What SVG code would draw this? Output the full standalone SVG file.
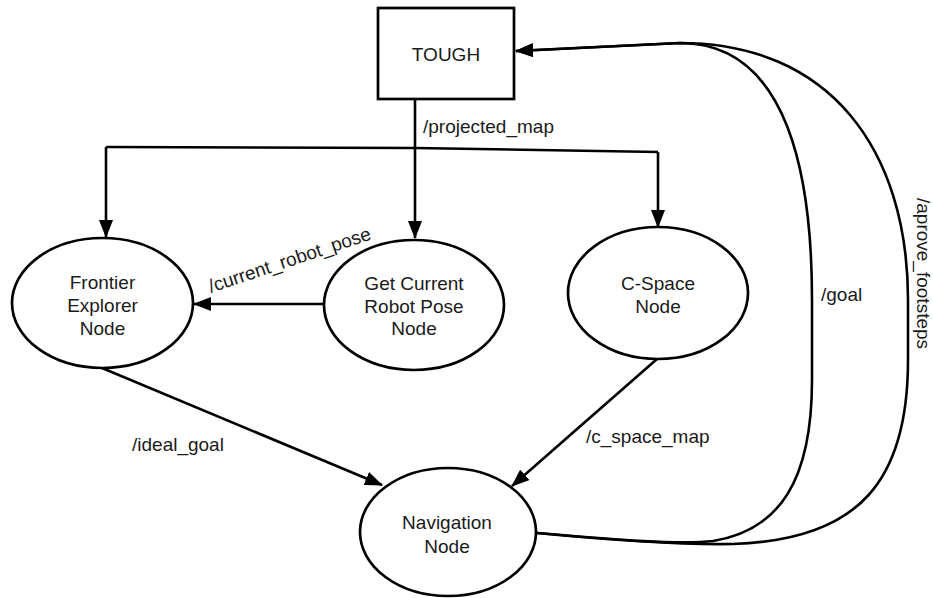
<svg xmlns="http://www.w3.org/2000/svg" width="933" height="598" viewBox="0 0 933 598">
  <style>
    .shape { fill: #ffffff; stroke: #000000; stroke-width: 2.7; }
    .edge { fill: none; stroke: #000000; stroke-width: 2.6; }
    .arrow { marker-end: url(#ah); }
    text { font-family: "Liberation Sans", Arial, sans-serif; font-size: 19px; fill: #1a1a1a; }
    .c { text-anchor: middle; }
  </style>
  <defs>
    <marker id="ah" markerUnits="userSpaceOnUse" viewBox="0 0 18 14" refX="17" refY="7" markerWidth="18" markerHeight="14" orient="auto">
      <path d="M0,0 L18,7 L0,14 z" fill="#000000"/>
    </marker>
  </defs>
  <rect width="933" height="598" fill="#ffffff"/>

  <g id="connectors">
    <!-- /projected_map tree -->
    <path class="edge" d="M415,99 L415,148"/>
    <path class="edge" d="M106,147 L415,148 L658,152"/>
    <path class="edge arrow" d="M106,147 L106,237"/>
    <path class="edge arrow" d="M415,148 L415,238"/>
    <path class="edge arrow" d="M658,152 L658,227"/>
    <!-- /current_robot_pose -->
    <path class="edge arrow" d="M324,304 L194,304"/>
    <!-- /ideal_goal -->
    <path class="edge arrow" d="M102,368 L382,485"/>
    <!-- /c_space_map -->
    <path class="edge arrow" d="M657,359 L512,486"/>
    <!-- /goal -->
    <path class="edge arrow" d="M537,533 C620,540 680,545 713,541 C780,530 812,480 812,380 L812,300 C812,180 790,43 680,43 L516,51"/>
    <!-- /aprove_footsteps -->
    <path class="edge arrow" d="M537,533 C620,541 680,545 733,544 C860,540 908,480 908,360 L908,300 C908,150 830,43 680,43 L516,51"/>

    <text x="423" y="133">/projected_map</text>
    <text x="211" y="293" transform="rotate(-18.5 211 293)">/current_robot_pose</text>
    <text x="132" y="451">/ideal_goal</text>
    <text x="586" y="443">/c_space_map</text>
    <text x="821" y="301">/goal</text>
    <text x="917" y="198" transform="rotate(90 917 198)">/aprove_footsteps</text>
  </g>

  <g id="tough">
    <rect class="shape" x="378" y="8" width="136" height="91"/>
    <text class="c" x="446" y="61">TOUGH</text>
  </g>

  <g id="frontier-explorer">
    <ellipse class="shape" cx="102.5" cy="303" rx="90.5" ry="65"/>
    <text class="c" x="102.5" y="289">Frontier</text>
    <text class="c" x="102.5" y="312">Explorer</text>
    <text class="c" x="102.5" y="335">Node</text>
  </g>

  <g id="get-current-robot-pose">
    <ellipse class="shape" cx="414" cy="305" rx="90" ry="65"/>
    <text class="c" x="414" y="290">Get Current</text>
    <text class="c" x="414" y="313">Robot Pose</text>
    <text class="c" x="414" y="335">Node</text>
  </g>

  <g id="c-space">
    <ellipse class="shape" cx="658" cy="293" rx="90" ry="66"/>
    <text class="c" x="658" y="290">C-Space</text>
    <text class="c" x="658" y="313">Node</text>
  </g>

  <g id="navigation">
    <ellipse class="shape" cx="448" cy="532" rx="88" ry="64"/>
    <text class="c" x="447" y="529">Navigation</text>
    <text class="c" x="447" y="553">Node</text>
  </g>
</svg>
